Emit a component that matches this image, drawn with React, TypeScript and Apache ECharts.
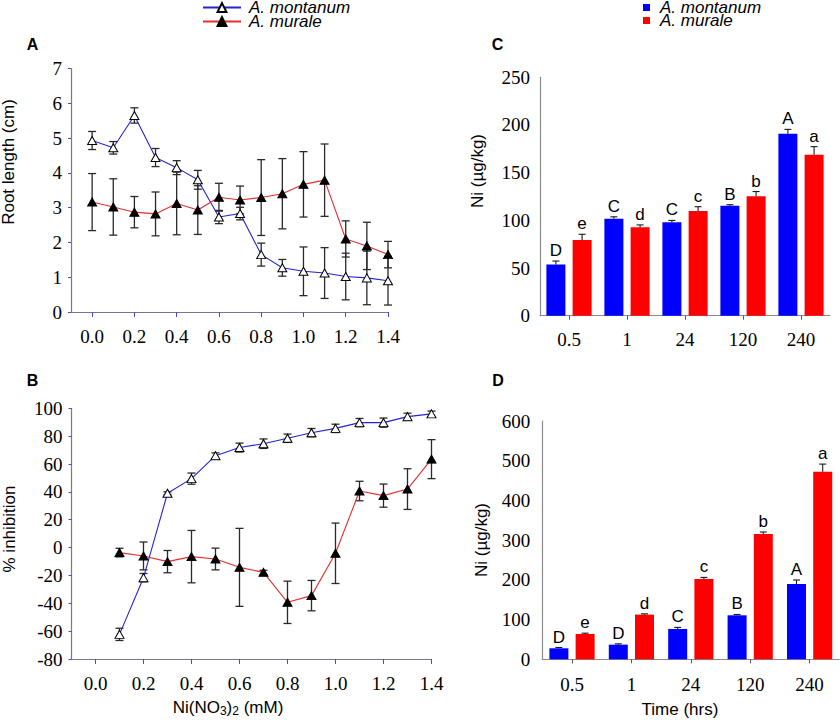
import React, { useEffect, useRef } from 'react';
import * as echarts from 'echarts';

// ---------- data ----------
const concRoot = [0.0, 0.1, 0.2, 0.3, 0.4, 0.5, 0.6, 0.7, 0.8, 0.9, 1.0, 1.1, 1.2, 1.3, 1.4];
const montanumRoot = [4.93, 4.72, 5.65, 4.44, 4.15, 3.8, 2.73, 2.83, 1.65, 1.27, 1.17, 1.12, 1.02, 0.98, 0.9];
const montanumRootErr = [0.26, 0.18, 0.22, 0.26, 0.2, 0.27, 0.19, 0.18, 0.33, 0.24, 0.7, 0.73, 0.67, 0.77, 0.7];
const muraleRoot = [3.16, 3.02, 2.87, 2.82, 3.12, 2.93, 3.3, 3.22, 3.29, 3.4, 3.67, 3.79, 2.1, 1.9, 1.65];
const muraleRootErr = [0.82, 0.81, 0.45, 0.63, 0.9, 0.7, 0.4, 0.4, 1.09, 1.01, 0.94, 1.04, 0.52, 0.68, 0.38];

const concInh = [0.1, 0.2, 0.3, 0.4, 0.5, 0.6, 0.7, 0.8, 0.9, 1.0, 1.1, 1.2, 1.3, 1.4];
const montanumInh = [-62.3, -21.6, 39, 49.5, 66, 71.8, 74.6, 78.5, 82.5, 85.6, 89.7, 89.7, 94, 96];
const montanumInhErr = [4.4, 3, 1, 4, 2, 3.2, 3.4, 3, 3, 3, 3, 3.3, 2.5, 2];
const muraleInh = [-3.6, -6, -10.1, -6.5, -8.2, -14.2, -17.8, -39.3, -34.5, -4.1, 40.6, 37.3, 42, 63.5];
const muraleInhErr = [3.1, 10, 8, 18.8, 7.8, 28, 1.5, 15.2, 10.9, 21.7, 7, 8.3, 14.6, 14];

const timeCats = ['0.5', '1', '24', '120', '240'];
const montanumNiC = [53.8, 101.7, 97.9, 115.4, 190.9];
const montanumNiCErr = [3.5, 2, 2, 1, 4.5];
const muraleNiC = [79.4, 92.7, 109.8, 125.2, 168.9];
const muraleNiCErr = [6, 2.5, 4.5, 5, 8.4];
const montanumLettersC = ['D', 'C', 'C', 'B', 'A'];
const muraleLettersC = ['e', 'd', 'c', 'b', 'a'];

const montanumNiD = [27.7, 36.9, 76.4, 110.8, 189.7];
const montanumNiDErr = [2, 2, 4, 2, 10];
const muraleNiD = [63.8, 112.5, 202.2, 315.5, 472.5];
const muraleNiDErr = [2, 2, 4, 5, 19];
const montanumLettersD = ['D', 'D', 'C', 'B', 'A'];
const muraleLettersD = ['e', 'd', 'c', 'b', 'a'];

const concTicks = [0, 0.2, 0.4, 0.6, 0.8, 1.0, 1.2, 1.4];

// ---------- styles ----------
const SANS = "'Liberation Sans', Arial, sans-serif";
const SERIF = "'Liberation Serif', 'Times New Roman', serif";
const BLUE_LINE = '#2323d8';
const RED_LINE = '#e62e2e';
const BLUE_BAR = '#0000ff';
const RED_BAR = '#ff0000';
const AXIS_AB = '#76768f';
const TICK_AB = '#4a4ad0';
const AXIS_CD = '#8a8a8a';

const lineErrRender = (params: any, api: any) => {
  const x = api.value(0);
  const y = api.value(1);
  const e = api.value(2);
  const p1 = api.coord([x, y + e]);
  const p2 = api.coord([x, y - e]);
  const hw = 4;
  const st = { stroke: '#2a2a2a', lineWidth: 1.3 };
  return {
    type: 'group',
    children: [
      { type: 'line', shape: { x1: p1[0], y1: p1[1], x2: p2[0], y2: p2[1] }, style: st },
      { type: 'line', shape: { x1: p1[0] - hw, y1: p1[1], x2: p1[0] + hw, y2: p1[1] }, style: st },
      { type: 'line', shape: { x1: p2[0] - hw, y1: p2[1], x2: p2[0] + hw, y2: p2[1] }, style: st },
    ],
  };
};

const barErrRender = (offset: number, letters: string[]) => (params: any, api: any) => {
  const c = api.value(0);
  const v = api.value(1);
  const e = api.value(2);
  const base = api.coord([c, v]);
  const top = api.coord([c, v + e]);
  const x = base[0] + offset;
  const hw = 3.5;
  const st = { stroke: '#1a1a1a', lineWidth: 1.1 };
  return {
    type: 'group',
    children: [
      { type: 'line', shape: { x1: x, y1: base[1], x2: x, y2: top[1] }, style: st },
      { type: 'line', shape: { x1: x - hw, y1: top[1], x2: x + hw, y2: top[1] }, style: st },
      {
        type: 'text',
        x: x,
        y: top[1] - 2,
        style: {
          text: letters[params.dataIndex],
          align: 'center',
          verticalAlign: 'bottom',
          font: `17px ${SANS}`,
          fill: '#000',
        },
      },
    ],
  };
};

function lineErrSeries(name: string, xi: number, xs: number[], ys: number[], es: number[]) {
  return {
    type: 'custom',
    name: name + ' err',
    xAxisIndex: xi,
    yAxisIndex: xi,
    z: 2,
    silent: true,
    renderItem: lineErrRender,
    encode: { x: 0, y: 1 },
    data: xs.map((x, i) => [x, ys[i], es[i]]),
  };
}

function barErrSeries(name: string, gi: number, ys: number[], es: number[], offset: number, letters: string[]) {
  return {
    type: 'custom',
    name: name + ' err',
    xAxisIndex: gi,
    yAxisIndex: gi,
    z: 3,
    silent: true,
    renderItem: barErrRender(offset, letters),
    encode: { x: 0, y: 1 },
    data: ys.map((y, i) => [i, y, es[i]]),
  };
}

function lineSeries(name: string, gi: number, xs: number[], ys: number[], open: boolean) {
  return {
    type: 'line',
    name,
    xAxisIndex: gi,
    yAxisIndex: gi,
    z: 4,
    symbol: 'triangle',
    symbolSize: [9, 8],
    lineStyle: { color: open ? BLUE_LINE : RED_LINE, width: 1.1 },
    itemStyle: open
      ? { color: '#ffffff', borderColor: '#000000', borderWidth: 1 }
      : { color: '#000000', borderColor: '#000000', borderWidth: 1 },
    data: xs.map((x, i) => [x, ys[i]]),
  };
}

const tickLabelStyle = { fontFamily: SERIF, fontSize: 19, color: '#000' };

function concXAxis(gi: number) {
  return {
    type: 'value',
    gridIndex: gi,
    min: -0.1,
    max: 1.4,
    axisLine: { show: true, onZero: false, lineStyle: { color: AXIS_AB, width: 1.2 } },
    axisTick: { show: true, customValues: concTicks, length: 5, lineStyle: { color: TICK_AB } },
    axisLabel: { ...tickLabelStyle, customValues: concTicks, margin: 15, formatter: (v: number) => v.toFixed(1) },
    splitLine: { show: false },
  };
}

function abYAxis(gi: number, min: number, max: number, interval: number) {
  return {
    type: 'value',
    gridIndex: gi,
    min,
    max,
    interval,
    axisLine: { show: true, onZero: false, lineStyle: { color: AXIS_AB, width: 1.2 } },
    axisTick: { show: true, length: 3, lineStyle: { color: TICK_AB } },
    axisLabel: { ...tickLabelStyle, margin: 9 },
    splitLine: { show: false },
  };
}

function timeXAxis(gi: number, margin: number) {
  return {
    type: 'category',
    gridIndex: gi,
    data: timeCats,
    axisLine: { show: true, onZero: false, lineStyle: { color: AXIS_CD, width: 1.2 } },
    axisTick: { show: true, alignWithLabel: true, length: 4, lineStyle: { color: '#555' } },
    axisLabel: { ...tickLabelStyle, margin },
  };
}

function cdYAxis(gi: number, max: number, interval: number, margin: number) {
  return {
    type: 'value',
    gridIndex: gi,
    min: 0,
    max,
    interval,
    axisLine: { show: true, onZero: false, lineStyle: { color: AXIS_CD, width: 1.2 } },
    axisTick: { show: false },
    axisLabel: { ...tickLabelStyle, margin },
    splitLine: { show: false },
  };
}

function txt(text: string, x: number, y: number, size: number, opts: any = {}) {
  return {
    type: 'text',
    x,
    y,
    rotation: opts.rotate ? Math.PI / 2 : 0,
    style: {
      text,
      align: 'center',
      verticalAlign: 'middle',
      font: `${opts.bold ? 'bold ' : ''}${size}px ${SANS}`,
      fill: '#000',
      rich: opts.rich,
    },
  };
}

const BAR_OFFSET = 13.1;

export default function App() {
  const ref = useRef<HTMLDivElement>(null);
  useEffect(() => {
    document.body.style.margin = '0';
    const chart = echarts.init(ref.current!, null, { renderer: 'svg' });
    const legendText = { fontFamily: SANS, fontStyle: 'italic', fontSize: 17, color: '#000' };
    chart.setOption({
      animation: false,
      backgroundColor: '#ffffff',
      grid: [
        { left: 71, top: 68.5, width: 317, height: 243.5 },
        { left: 71.5, top: 408.3, width: 360, height: 250.7 },
        { left: 540, top: 77.3, width: 290, height: 238.4 },
        { left: 542.3, top: 421, width: 297, height: 238.3 },
      ],
      legend: [
        {
          data: ['A. montanum', 'A. murale'],
          left: 197,
          top: -6,
          orient: 'vertical',
          itemWidth: 38,
          itemHeight: 11,
          itemGap: -3,
          selectedMode: false,
          textStyle: { ...legendText, padding: [0, 0, 0, 3] },
        },
        {
          data: [
            { name: 'A. montanum', icon: 'path://M0,0L10,0L10,10L0,10Z', itemStyle: { color: BLUE_BAR, borderWidth: 0 } },
            { name: 'A. murale', icon: 'path://M0,0L10,0L10,10L0,10Z', itemStyle: { color: RED_BAR, borderWidth: 0 } },
          ],
          left: 638,
          top: -6,
          orient: 'vertical',
          itemWidth: 17,
          itemHeight: 7,
          itemGap: -4,
          selectedMode: false,
          textStyle: { ...legendText },
        },
      ],
      xAxis: [concXAxis(0), concXAxis(1), timeXAxis(2, 14), timeXAxis(3, 16)],
      yAxis: [abYAxis(0, 0, 7, 1), abYAxis(1, -80, 100, 20), cdYAxis(2, 250, 50, 10), cdYAxis(3, 600, 100, 12)],
      series: [
        lineErrSeries('A. montanum', 0, concRoot, montanumRoot, montanumRootErr),
        lineErrSeries('A. murale', 0, concRoot, muraleRoot, muraleRootErr),
        lineSeries('A. montanum', 0, concRoot, montanumRoot, true),
        lineSeries('A. murale', 0, concRoot, muraleRoot, false),
        lineErrSeries('A. montanum', 1, concInh, montanumInh, montanumInhErr),
        lineErrSeries('A. murale', 1, concInh, muraleInh, muraleInhErr),
        lineSeries('A. montanum', 1, concInh, montanumInh, true),
        lineSeries('A. murale', 1, concInh, muraleInh, false),
        {
          type: 'bar', name: 'A. montanum', xAxisIndex: 2, yAxisIndex: 2, barWidth: 19, barGap: '38%',
          itemStyle: { color: BLUE_BAR }, data: montanumNiC,
        },
        {
          type: 'bar', name: 'A. murale', xAxisIndex: 2, yAxisIndex: 2, barWidth: 19, barGap: '38%',
          itemStyle: { color: RED_BAR }, data: muraleNiC,
        },
        barErrSeries('A. montanum', 2, montanumNiC, montanumNiCErr, -BAR_OFFSET, montanumLettersC),
        barErrSeries('A. murale', 2, muraleNiC, muraleNiCErr, BAR_OFFSET, muraleLettersC),
        {
          type: 'bar', name: 'A. montanum', xAxisIndex: 3, yAxisIndex: 3, barWidth: 19, barGap: '38%',
          itemStyle: { color: BLUE_BAR }, data: montanumNiD,
        },
        {
          type: 'bar', name: 'A. murale', xAxisIndex: 3, yAxisIndex: 3, barWidth: 19, barGap: '38%',
          itemStyle: { color: RED_BAR }, data: muraleNiD,
        },
        barErrSeries('A. montanum', 3, montanumNiD, montanumNiDErr, -BAR_OFFSET, montanumLettersD),
        barErrSeries('A. murale', 3, muraleNiD, muraleNiDErr, BAR_OFFSET, muraleLettersD),
      ],
      graphic: [
        txt('A', 32.5, 44, 16, { bold: true }),
        txt('B', 32.5, 380, 16, { bold: true }),
        txt('C', 497.5, 44, 16, { bold: true }),
        txt('D', 498, 380, 16, { bold: true }),
        txt('Root length (cm)', 8.5, 162, 17, { rotate: true }),
        txt('% inhibition', 9, 529, 17, { rotate: true }),
        txt('Ni (µg/kg)', 477.5, 171, 17, { rotate: true }),
        txt('Ni (µg/kg)', 481.5, 540, 17, { rotate: true }),
        txt('{n|Ni(NO}{s|3}{n|)}{s|2}{n| (mM)}', 228, 707, 17, {
          rich: {
            n: { fontSize: 17, fontFamily: SANS, lineHeight: 17, verticalAlign: 'top' },
            s: { fontSize: 12, fontFamily: SANS, lineHeight: 12, padding: [6, 0, 0, 0], verticalAlign: 'top' },
          },
        }),
        txt('Time (hrs)', 680, 709, 17),
      ],
    });
    return () => chart.dispose();
  }, []);
  return <div ref={ref} style={{ width: 840, height: 720 }} />;
}
